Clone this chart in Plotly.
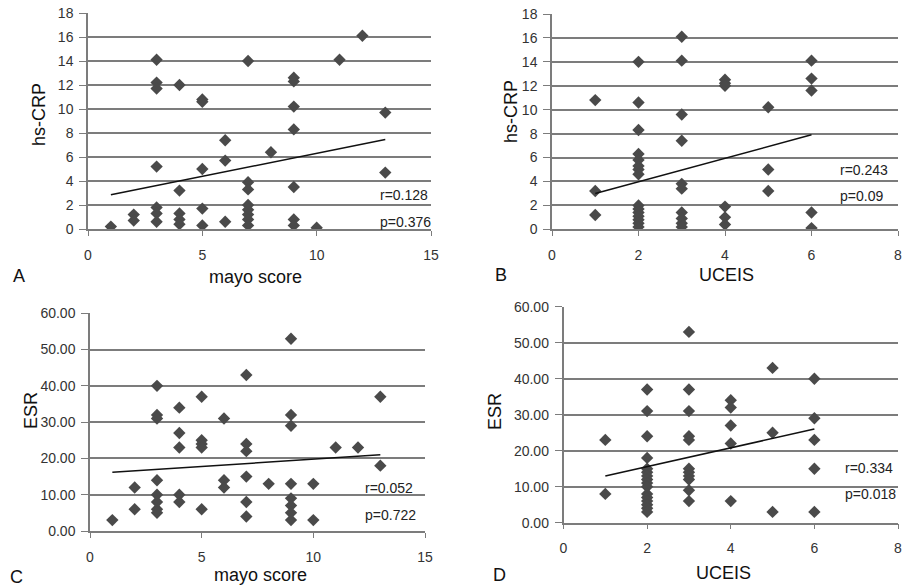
import plotly.graph_objects as go

# ---------------- data ----------------
# Panel A: mayo score vs hs-CRP
a_x = [1, 2, 2, 3, 3, 3, 3, 3, 3, 3, 4, 4, 4, 4, 4, 5, 5, 5, 5, 5, 6, 6, 6,
       7, 7, 7, 7, 7, 7, 7, 7, 8, 9, 9, 9, 9, 9, 9, 9, 10, 11, 12, 13, 13]
a_y = [0.2, 1.2, 0.7, 14.1, 12.2, 11.7, 5.2, 1.8, 1.3, 0.6, 12.0, 3.2, 1.3, 0.8, 0.4,
       10.8, 10.6, 5.0, 1.7, 0.3, 7.4, 5.7, 0.6, 14.0, 3.9, 3.3, 2.0, 1.6, 1.2, 0.8, 0.3,
       6.4, 12.6, 12.3, 10.2, 8.3, 3.5, 0.8, 0.3, 0.1, 14.1, 16.1, 9.7, 4.7]
a_trend_x = [1, 13]
a_trend_y = [2.85, 7.45]

# Panel B: UCEIS vs hs-CRP
b_x = [1, 1, 1,
       2, 2, 2, 2, 2, 2, 2, 2, 2, 2, 2, 2, 2, 2, 2,
       3, 3, 3, 3, 3, 3, 3, 3, 3, 3,
       4, 4, 4, 4, 4, 4,
       5, 5, 5,
       6, 6, 6, 6, 6]
b_y = [10.8, 3.2, 1.2,
       14.0, 10.6, 8.3, 6.3, 5.8, 5.3, 5.0, 4.6, 2.0, 1.7, 1.4, 1.1, 0.8, 0.5, 0.2,
       16.1, 14.1, 9.6, 7.4, 3.8, 3.4, 1.4, 0.9, 0.5, 0.2,
       12.5, 12.2, 12.0, 1.9, 1.0, 0.4,
       10.2, 5.0, 3.2,
       14.1, 12.6, 11.6, 1.4, 0.1]
b_trend_x = [1, 6]
b_trend_y = [3.0, 7.9]

# Panel C: mayo score vs ESR
c_x = [1, 2, 2, 3, 3, 3, 3, 3, 3, 3, 3, 4, 4, 4, 4, 4, 5, 5, 5, 5, 5, 6, 6, 6,
       7, 7, 7, 7, 7, 7, 8, 9, 9, 9, 9, 9, 9, 9, 9, 10, 10, 11, 12, 13, 13]
c_y = [3, 12, 6, 40, 32, 31, 14, 10, 8, 6, 5, 34, 27, 23, 10, 8, 37, 25, 24, 23, 6,
       31, 14, 12, 43, 24, 22, 15, 8, 4, 13, 53, 32, 29, 13, 9, 7, 5, 3, 13, 3,
       23, 23, 37, 18]
c_trend_x = [1, 13]
c_trend_y = [16.2, 21.0]

# Panel D: UCEIS vs ESR
d_x = [1, 1,
       2, 2, 2, 2, 2, 2, 2, 2, 2, 2, 2, 2, 2, 2, 2, 2,
       3, 3, 3, 3, 3, 3, 3, 3, 3, 3, 3,
       4, 4, 4, 4, 4,
       5, 5, 5,
       6, 6, 6, 6, 6]
d_y = [23, 8,
       37, 31, 24, 18, 15, 14, 13, 12, 11, 10, 8, 7, 6, 5, 4, 3,
       53, 37, 31, 24, 23, 15, 14, 13, 12, 9, 6,
       34, 32, 27, 22, 6,
       43, 25, 3,
       40, 29, 23, 15, 3]
d_trend_x = [1, 6]
d_trend_y = [13.0, 26.0]

stats_r = ["r=0.128", "r=0.243", "r=0.052", "r=0.334"]
stats_p = ["p=0.376", "p=0.09", "p=0.722", "p=0.018"]
panel_letters = ["A", "B", "C", "D"]
x_titles = ["mayo score", "UCEIS", "mayo score", "UCEIS"]
y_titles = ["hs-CRP", "hs-CRP", "ESR", "ESR"]

# ---------------- figure ----------------
W, H = 904, 587
def fx(px):
    return px / W
def fy(py):
    return 1 - py / H

GRID = "#7c7c7c"
MARK = "#4a4a4a"
FONT = "Liberation Sans, Arial, sans-serif"

fig = go.Figure()
series = [(a_x, a_y, a_trend_x, a_trend_y),
          (b_x, b_y, b_trend_x, b_trend_y),
          (c_x, c_y, c_trend_x, c_trend_y),
          (d_x, d_y, d_trend_x, d_trend_y)]
for i, (sx, sy, tx, ty) in enumerate(series):
    suf = "" if i == 0 else str(i + 1)
    fig.add_trace(go.Scatter(x=sx, y=sy, mode="markers", xaxis="x" + suf, yaxis="y" + suf,
                             marker=dict(symbol="diamond", size=9.5, color=MARK,
                                         line=dict(width=0)),
                             showlegend=False, hoverinfo="skip"))
    fig.add_trace(go.Scatter(x=tx, y=ty, mode="lines", xaxis="x" + suf, yaxis="y" + suf,
                             line=dict(color="#111111", width=1.5),
                             showlegend=False, hoverinfo="skip"))

# pixel domains of each plot area: (left, right, top, bottom)
boxes = [(88, 431, 13, 229), (552, 898, 14, 229.3),
         (90, 425, 313.3, 531), (563.5, 898, 306.7, 522.7)]
xranges = [[0, 15], [0, 8], [0, 15], [0, 8]]
xdticks = [5, 2, 5, 2]
yranges = [[0, 18], [0, 18], [0, 60], [0, 60]]
ydticks = [2, 2, 10, 10]
yfmts = ["", "", ".2f", ".2f"]

layout = dict(width=W, height=H, margin=dict(l=0, r=0, t=0, b=0),
              paper_bgcolor="white", plot_bgcolor="white",
              font=dict(family=FONT, color="#333333"))
for i, (l, r, t, b) in enumerate(boxes):
    suf = "" if i == 0 else str(i + 1)
    layout["xaxis" + suf] = dict(domain=[fx(l), fx(r)], range=xranges[i], dtick=xdticks[i],
                                 tick0=0, anchor="y" + suf, showgrid=False, zeroline=False,
                                 showline=True, linecolor=GRID, linewidth=1.5,
                                 ticks="outside", ticklen=5, tickcolor=GRID, tickwidth=1.3,
                                 ticklabelstandoff=7, automargin=False,
                                 ticklabeloverflow="allow",
                                 tickfont=dict(size=14, color="#333333", family=FONT))
    layout["yaxis" + suf] = dict(domain=[fy(b), fy(t)], range=yranges[i], dtick=ydticks[i],
                                 tick0=0, anchor="x" + suf, showgrid=True, gridcolor=GRID,
                                 gridwidth=1.5, zeroline=False, showline=True,
                                 linecolor=GRID, linewidth=1.5, ticks="outside", ticklen=7,
                                 tickcolor=GRID, tickwidth=1.3, tickformat=yfmts[i],
                                 ticklabelstandoff=3, automargin=False,
                                 ticklabeloverflow="allow",
                                 tickfont=dict(size=14, color="#333333", family=FONT))

ann = []
stat_pos = [((378, 195), (378, 222)), ((838, 170), (838, 196)),
            ((363, 488), (363, 515)), ((843, 468), (843, 494))]
letter_pos = [(19, 276), (501, 275), (16, 577), (499, 575)]
xtitle_pos = [(255, 277), (726, 275), (260, 575), (723, 573)]
ytitle_pos = [(39, 115), (511, 111), (31, 410), (495, 412)]
for i in range(4):
    (rx, ry), (qx, qy) = stat_pos[i]
    ann.append(dict(text=stats_r[i], x=fx(rx), y=fy(ry), xref="paper", yref="paper",
                    xanchor="left", yanchor="middle", showarrow=False,
                    font=dict(size=14, color="#222222", family=FONT)))
    ann.append(dict(text=stats_p[i], x=fx(qx), y=fy(qy), xref="paper", yref="paper",
                    xanchor="left", yanchor="middle", showarrow=False,
                    font=dict(size=14, color="#222222", family=FONT)))
    lx, ly = letter_pos[i]
    ann.append(dict(text=panel_letters[i], x=fx(lx), y=fy(ly), xref="paper", yref="paper",
                    xanchor="center", yanchor="middle", showarrow=False,
                    font=dict(size=18, color="#111111", family=FONT)))
    tx, ty = xtitle_pos[i]
    ann.append(dict(text=x_titles[i], x=fx(tx), y=fy(ty), xref="paper", yref="paper",
                    xanchor="center", yanchor="middle", showarrow=False,
                    font=dict(size=18, color="#111111", family=FONT)))
    vx, vy = ytitle_pos[i]
    ann.append(dict(text=y_titles[i], x=fx(vx), y=fy(vy), xref="paper", yref="paper",
                    xanchor="center", yanchor="middle", showarrow=False, textangle=-90,
                    font=dict(size=18, color="#111111", family=FONT)))
layout["annotations"] = ann

fig.update_layout(**layout)
fig.write_html("out.html")
